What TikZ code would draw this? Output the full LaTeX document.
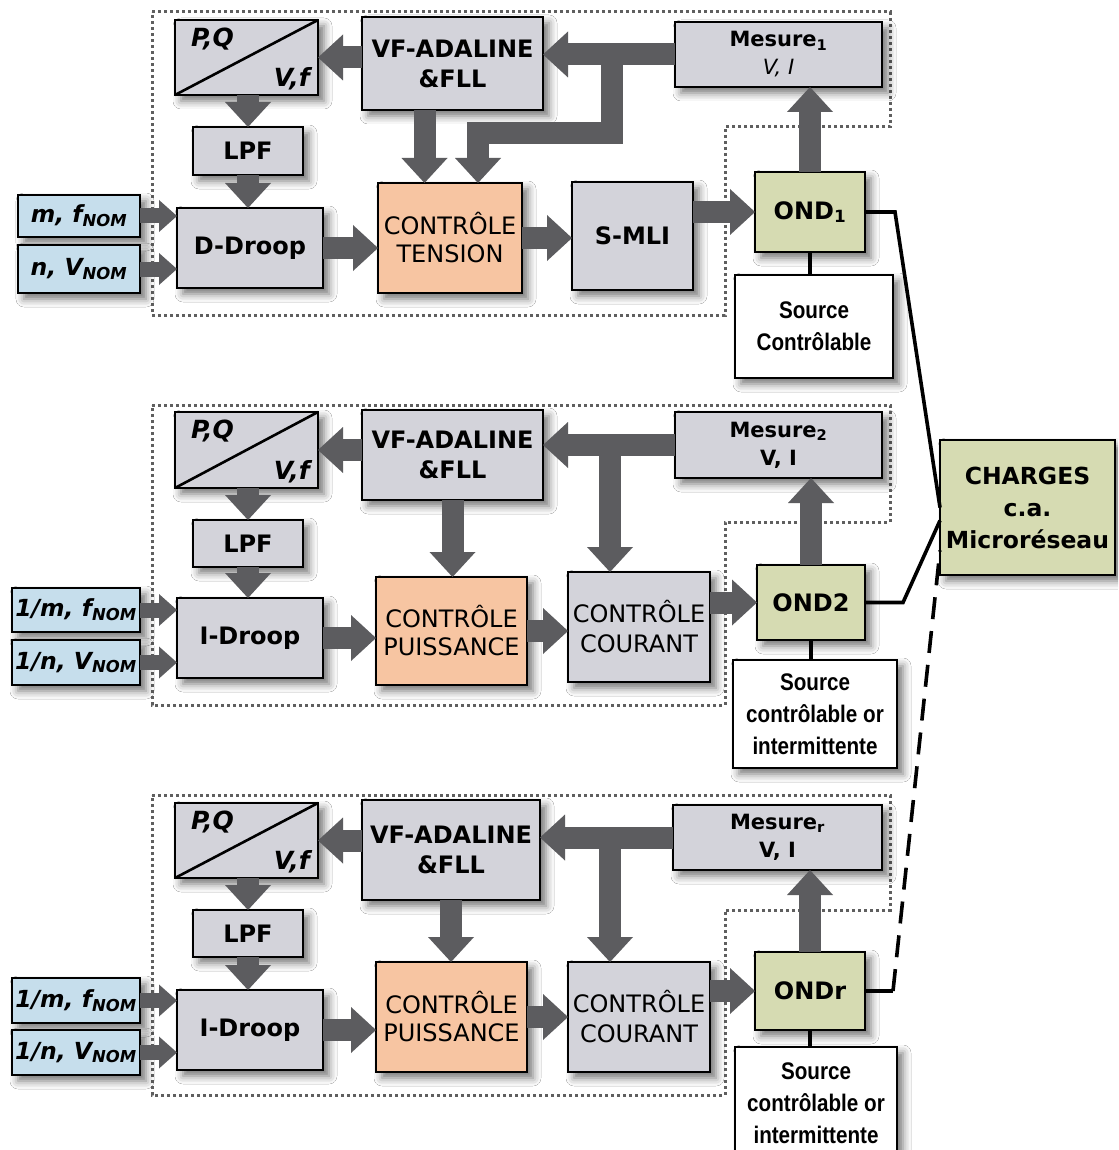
\documentclass[tikz,border=0pt]{standalone}
\usepackage{fontspec}
\setmainfont{DejaVu Sans}
\newfontfamily\narrowfont[FakeStretch=0.86]{Liberation Sans}
\usetikzlibrary{arrows.meta,shadows.blur,calc}

\definecolor{boxgray}{RGB}{211,211,218}
\definecolor{boxorange}{RGB}{247,197,162}
\definecolor{boxgreen}{RGB}{214,219,178}
\definecolor{boxblue}{RGB}{198,222,236}
\definecolor{arrowgray}{RGB}{92,92,95}
\definecolor{dotgray}{RGB}{95,95,95}

\tikzset{
  blk/.style={draw=black, line width=2.6pt, fill=boxgray, inner sep=0pt, outer sep=0pt,
    align=center, font=\fontsize{24}{30}\selectfont,
    blur shadow={shadow xshift=6pt, shadow yshift=-6pt, shadow blur radius=8pt, shadow opacity=55}},
  oblk/.style={blk, fill=boxorange, font=\fontsize{24}{28}\selectfont},
  gblk/.style={blk, fill=boxgreen},
  wblk/.style={blk, fill=white, font=\narrowfont\bfseries\fontsize{24}{32}\selectfont},
  iblk/.style={blk, fill=boxblue, font=\bfseries\itshape\fontsize{23.5}{28}\selectfont},
  mblk/.style={blk, font=\bfseries\fontsize{21}{28}\selectfont},
  cblk/.style={blk, fill=boxgreen, font=\bfseries\fontsize{23.5}{32}\selectfont},
  pqlab/.style={inner sep=0pt, font=\bfseries\itshape\fontsize{25}{28}\selectfont},
  outline/.style={draw=dotgray, line width=3pt, dash pattern=on 3pt off 3pt},
  fatarrow/.style={draw=arrowgray, line width=22pt, line join=miter,
    -{Triangle[width=46pt,length=25pt,line width=0pt]}},
  inarrow/.style={draw=arrowgray, line width=15pt,
    -{Triangle[width=32pt,length=18pt,line width=0pt]}},
  wire/.style={draw=black, line width=3.6pt, line join=miter},
}

% box from its corners: name, style, x1, y1, x2, y2, text
\newcommand\placebox[7]{%
  \node[#2, minimum width={#5-#3}, minimum height={#6-#4}] (#1)
    at ({(#3+#5)/2},{(#4+#6)/2}) {#7};}

\begin{document}
\begin{tikzpicture}[x=1pt, y=-1pt]
\useasboundingbox (0,0) rectangle (1118,1150);
\clip (0,0) rectangle (1118,1150);
\fill[white] (0,0) rectangle (1118,1150);

% ---------- dotted outlines of the three controllers ----------
\draw[outline] (152,12) -- (890,12) -- (890,127) -- (725,127) -- (725,315) -- (152,315) -- cycle;
\draw[outline] (152,405) -- (890,405) -- (890,522) -- (725,522) -- (725,705) -- (152,705) -- cycle;
\draw[outline] (152,795) -- (890,795) -- (890,910) -- (725,910) -- (725,1095) -- (152,1095) -- cycle;

% ---------- load ----------
\placebox{ch}{cblk}{940}{440}{1115}{575}{CHARGES\\c.a.\\Microréseau}

% ---------- controller 1 ----------
\placebox{pq1}{blk}{175}{20}{318}{95}{}
\placebox{vf1}{blk}{362}{17}{543}{110}{\bfseries VF-ADALINE\\\bfseries\&FLL}
\placebox{me1}{mblk}{675}{22}{882}{87}{Mesure\textsubscript{1}\\\mdseries\itshape V, I}
\placebox{lpf1}{blk}{193}{127}{303}{175}{\bfseries LPF}
\placebox{dr1}{blk}{177}{208}{323}{288}{\bfseries D-Droop}
\placebox{ct1}{oblk}{378}{183}{522}{293}{CONTRÔLE\\TENSION}
\placebox{sm1}{blk}{572}{182}{693}{290}{\bfseries S-MLI}
\placebox{od1}{gblk}{755}{172}{865}{252}{\bfseries OND\textsubscript{1}}
\placebox{sr1}{wblk}{735}{275}{893}{378}{Source\\Contrôlable}
\placebox{in1a}{iblk}{18}{195}{140}{237}{m, f\textsubscript{NOM}}
\placebox{in1b}{iblk}{18}{245}{140}{293}{n, V\textsubscript{NOM}}
\draw[line width=2.6pt] (pq1.south west) -- (pq1.north east);
\node[pqlab, anchor=north west] (pq1a) at ([xshift=16pt,yshift=-8pt]pq1.north west) {P,Q};
\node[pqlab, anchor=south east] (pq1b) at ([xshift=-8pt,yshift=5pt]pq1.south east) {V,f};

% ---------- controller 2 ----------
\placebox{pq2}{blk}{175}{412}{318}{488}{}
\placebox{vf2}{blk}{362}{410}{543}{500}{\bfseries VF-ADALINE\\\bfseries\&FLL}
\placebox{me2}{mblk}{675}{412}{882}{478}{Mesure\textsubscript{2}\\V, I}
\placebox{lpf2}{blk}{193}{520}{303}{567}{\bfseries LPF}
\placebox{dr2}{blk}{177}{598}{323}{678}{\bfseries I-Droop}
\placebox{cp2}{oblk}{376}{577}{527}{685}{CONTRÔLE\\PUISSANCE}
\placebox{cc2}{blk}{568}{572}{710}{682}{CONTRÔLE\\COURANT}
\placebox{od2}{gblk}{757}{565}{865}{640}{\bfseries OND2}
\placebox{sr2}{wblk}{733}{660}{897}{768}{Source\\contrôlable or\\intermittente}
\placebox{in2a}{iblk}{12}{588}{140}{632}{1/m, f\textsubscript{NOM}}
\placebox{in2b}{iblk}{12}{640}{140}{685}{1/n, V\textsubscript{NOM}}
\draw[line width=2.6pt] (pq2.south west) -- (pq2.north east);
\node[pqlab, anchor=north west] (pq2a) at ([xshift=16pt,yshift=-8pt]pq2.north west) {P,Q};
\node[pqlab, anchor=south east] (pq2b) at ([xshift=-8pt,yshift=5pt]pq2.south east) {V,f};

% ---------- controller r ----------
\placebox{pq3}{blk}{175}{803}{318}{878}{}
\placebox{vf3}{blk}{362}{800}{540}{900}{\bfseries VF-ADALINE\\\bfseries\&FLL}
\placebox{me3}{mblk}{673}{805}{882}{870}{Mesure\textsubscript{r}\\V, I}
\placebox{lpf3}{blk}{193}{910}{303}{957}{\bfseries LPF}
\placebox{dr3}{blk}{177}{990}{323}{1070}{\bfseries I-Droop}
\placebox{cp3}{oblk}{376}{962}{527}{1072}{CONTRÔLE\\PUISSANCE}
\placebox{cc3}{blk}{568}{962}{710}{1072}{CONTRÔLE\\COURANT}
\placebox{od3}{gblk}{755}{952}{865}{1030}{\bfseries ONDr}
\placebox{sr3}{wblk}{735}{1047}{897}{1160}{Source\\contrôlable or\\intermittente}
\placebox{in3a}{iblk}{12}{978}{140}{1023}{1/m, f\textsubscript{NOM}}
\placebox{in3b}{iblk}{12}{1030}{140}{1075}{1/n, V\textsubscript{NOM}}
\draw[line width=2.6pt] (pq3.south west) -- (pq3.north east);
\node[pqlab, anchor=north west] (pq3a) at ([xshift=16pt,yshift=-8pt]pq3.north west) {P,Q};
\node[pqlab, anchor=south east] (pq3b) at ([xshift=-8pt,yshift=5pt]pq3.south east) {V,f};

% ---------- signal arrows, controller 1 ----------
\coordinate (b1a) at (612,54.5);
\coordinate (b1b) at (478,133);
\draw[fatarrow] (me1.west) -- (me1.west -| vf1.east);
\draw[fatarrow] (b1a) |- (b1b) -- (b1b |- ct1.north);
\draw[fatarrow] ([xshift=-28pt]vf1.south) -- ([xshift=-28pt]vf1.south |- ct1.north);
\draw[fatarrow] (vf1.west |- pq1.east) -- (pq1.east);
\draw[fatarrow] (pq1.south -| lpf1.north) -- (lpf1.north);
\draw[fatarrow] (lpf1.south) -- (lpf1.south |- dr1.north);
\draw[inarrow] (in1a.east) -- (in1a.east -| dr1.west);
\draw[inarrow] (in1b.east) -- (in1b.east -| dr1.west);
\draw[fatarrow] (dr1.east) -- (dr1.east -| ct1.west);
\draw[fatarrow] (ct1.east) -- (ct1.east -| sm1.west);
\draw[fatarrow] (sm1.east |- od1.west) -- (od1.west);
\draw[fatarrow] (od1.north) -- (od1.north |- me1.south);

% ---------- signal arrows, controller 2 ----------
\coordinate (b2a) at (610,445);
\draw[fatarrow] (me2.west) -- (me2.west -| vf2.east);
\draw[fatarrow] (b2a) -- (b2a |- cc2.north);
\draw[fatarrow] (vf2.south) -- (vf2.south |- cp2.north);
\draw[fatarrow] (vf2.west |- pq2.east) -- (pq2.east);
\draw[fatarrow] (pq2.south -| lpf2.north) -- (lpf2.north);
\draw[fatarrow] (lpf2.south) -- (lpf2.south |- dr2.north);
\draw[inarrow] (in2a.east) -- (in2a.east -| dr2.west);
\draw[inarrow] (in2b.east) -- (in2b.east -| dr2.west);
\draw[fatarrow] (dr2.east) -- (dr2.east -| cp2.west);
\draw[fatarrow] (cp2.east) -- (cp2.east -| cc2.west);
\draw[fatarrow] (cc2.east |- od2.west) -- (od2.west);
\draw[fatarrow] (od2.north) -- (od2.north |- me2.south);

% ---------- signal arrows, controller r ----------
\coordinate (b3a) at (610,837.5);
\draw[fatarrow] (me3.west) -- (me3.west -| vf3.east);
\draw[fatarrow] (b3a) -- (b3a |- cc3.north);
\draw[fatarrow] (vf3.south) -- (vf3.south |- cp3.north);
\draw[fatarrow] (vf3.west |- pq3.east) -- (pq3.east);
\draw[fatarrow] (pq3.south -| lpf3.north) -- (lpf3.north);
\draw[fatarrow] (lpf3.south) -- (lpf3.south |- dr3.north);
\draw[inarrow] (in3a.east) -- (in3a.east -| dr3.west);
\draw[inarrow] (in3b.east) -- (in3b.east -| dr3.west);
\draw[fatarrow] (dr3.east) -- (dr3.east -| cp3.west);
\draw[fatarrow] (cp3.east) -- (cp3.east -| cc3.west);
\draw[fatarrow] (cc3.east |- od3.west) -- (od3.west);
\draw[fatarrow] (od3.north) -- (od3.north |- me3.south);

% ---------- sources and power wiring ----------
\draw[wire] (od1.south) -- (od1.south |- sr1.north);
\draw[wire] (od2.south) -- (od2.south |- sr2.north);
\draw[wire] (od3.south) -- (od3.south |- sr3.north);
\coordinate (k1) at (895,212);
\coordinate (k2) at (903,602.5);
\coordinate (k3) at (893,991);
\draw[wire] (od1.east) -- (k1) -- (ch.west);
\draw[wire] (od2.east) -- (k2) -- ([yshift=-13pt]ch.west);
\draw[wire] (od3.east) -- (k3);
\draw[wire, dash pattern=on 22pt off 12pt] (k3) -- ([yshift=-43pt]ch.west);
\end{tikzpicture}
\end{document}
